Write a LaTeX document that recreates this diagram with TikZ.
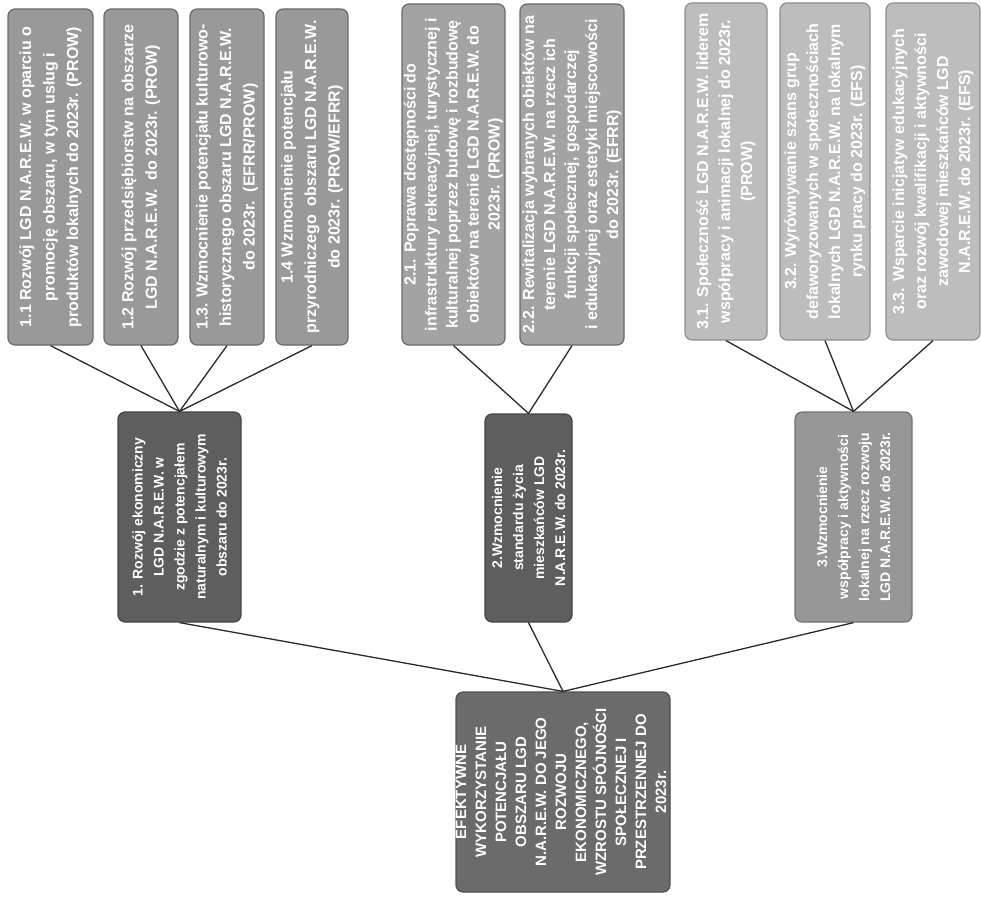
\documentclass[tikz,border=0pt]{standalone}
\usepackage{fontspec}
\setmainfont{Liberation Sans}
\definecolor{fA}{HTML}{999999}
\definecolor{fB}{HTML}{A3A3A3}
\definecolor{fC}{HTML}{BDBDBD}
\definecolor{fG}{HTML}{5E5E5E}
\definecolor{fH}{HTML}{979797}
\definecolor{fR}{HTML}{6B6B6B}
\definecolor{edge}{HTML}{6A6A6A}
\definecolor{lnk}{HTML}{2A2A2A}
\begin{document}
\begin{tikzpicture}[x=1pt,y=-1pt,
  bx/.style={rotate=90, rounded corners=7pt, line width=1.2pt, draw=edge, inner sep=0pt},
  subA/.style={bx, fill=fA},
  subB/.style={bx, fill=fB},
  subC/.style={bx, fill=fC, draw=fC!75!black},
  goalbox/.style={bx, fill=fG, draw=fG!75!black},
  goalboxL/.style={bx, fill=fH, draw=fH!75!black},
  rootbox/.style={bx, fill=fR, draw=fR!75!black},
  txtS/.style={rotate=90, text=white, align=center, inner sep=0pt, font=\bfseries\fontsize{16}{23.5}\selectfont},
  txtS2/.style={txtS, font=\bfseries\fontsize{16}{21}\selectfont},
  txtS3/.style={txtS, font=\bfseries\fontsize{16}{22}\selectfont},
  txtG/.style={rotate=90, text=white, align=center, inner sep=0pt, font=\bfseries\fontsize{14}{21}\selectfont},
  txtR/.style={rotate=90, text=white, align=center, inner sep=0pt, font=\bfseries\fontsize{15}{20}\selectfont},
  link/.style={draw=lnk, line width=1.3pt}]
\useasboundingbox (0,0) rectangle (981,899);

% subgoal boxes, group 1
\node[subA, minimum width=336, minimum height=85] (s11) at (50.5,177) {};
\node[txtS] (t11) at (s11.center) {1.1 Rozwój LGD N.A.R.E.W. w oparciu o\\promocję obszaru, w tym usług i\\produktów lokalnych do 2023r. (PROW)};
\node[subA, minimum width=336, minimum height=74] (s12) at (141,177) {};
\node[txtS] (t12) at (s12.center) {1.2 Rozwój przedsiębiorstw na obszarze\\LGD N.A.R.E.W.\ \ do 2023r. (PROW)};
\node[subA, minimum width=336, minimum height=74] (s13) at (227,177) {};
\node[txtS] (t13) at (s13.center) {1.3. Wzmocnienie potencjału kulturowo-\\historycznego obszaru LGD N.A.R.E.W.\\do 2023r.\ \ (EFRR/PROW)};
\node[subA, minimum width=336, minimum height=72] (s14) at (312,177) {};
\node[txtS] (t14) at (s14.center) {1.4 Wzmocnienie potencjału\\przyrodniczego\ \ obszaru LGD N.A.R.E.W.\\do 2023r. (PROW/EFRR)};

% group 2
\node[subB, minimum width=341, minimum height=103] (s21) at (453.5,174.5) {};
\node[txtS2] (t21) at (s21.center) {2.1. Poprawa dostępności do\\infrastruktury rekreacyjnej, turystycznej i\\kulturalnej poprzez budowę i rozbudowę\\obiektów na terenie LGD N.A.R.E.W. do\\2023r. (PROW)};
\node[subB, minimum width=341, minimum height=104] (s22) at (572,174.5) {};
\node[txtS2] (t22) at (s22.center) {2.2. Rewitalizacja wybranych obiektów na\\terenie LGD N.A.R.E.W. na rzecz ich\\funkcji społecznej, gospodarczej\\i edukacyjnej oraz estetyki miejscowości\\do 2023r. (EFRR)};

% group 3
\node[subC, minimum width=337, minimum height=82] (s31) at (726,171.5) {};
\node[txtS3] (t31) at (s31.center) {3.1. Społeczność LGD N.A.R.E.W. liderem\\współpracy i animacji lokalnej do 2023r.\\(PROW)};
\node[subC, minimum width=337, minimum height=90] (s32) at (825,171.5) {};
\node[txtS3] (t32) at (s32.center) {3.2. Wyrównywanie szans grup\\defaworyzowanych w społecznościach\\lokalnych LGD N.A.R.E.W. na lokalnym\\rynku pracy do 2023r. (EFS)};
\node[subC, minimum width=337, minimum height=94] (s33) at (933,171.5) {};
\node[txtS3] (t33) at (s33.center) {3.3. Wsparcie inicjatyw edukacyjnych\\oraz rozwój kwalifikacji i aktywności\\zawodowej mieszkańców LGD\\N.A.R.E.W. do 2023r. (EFS)};

% goals
\node[goalbox, minimum width=210, minimum height=123] (g1) at (179.5,517) {};
\node[txtG] (tg1) at (g1.center) {1. Rozwój ekonomiczny\\LGD N.A.R.E.W. w\\zgodzie z potencjałem\\naturalnym i kulturowym\\obszaru do 2023r.};
\node[goalbox, minimum width=208, minimum height=87] (g2) at (528.5,518) {};
\node[txtG] (tg2) at (g2.center) {2.Wzmocnienie\\standardu życia\\mieszkańców LGD\\N.A.R.E.W. do 2023r.};
\node[goalboxL, minimum width=210, minimum height=117] (g3) at (853.5,517) {};
\node[txtG] (tg3) at (g3.center) {3.Wzmocnienie\\współpracy i aktywności\\lokalnej na rzecz rozwoju\\LGD N.A.R.E.W. do 2023r.};

% root
\node[rootbox, minimum width=200, minimum height=214] (root) at (563,792) {};
\begin{scope}
\clip (root.north east) rectangle (root.south west);
\node[txtR] (troot) at (561,792) {EFEKTYWNE\\WYKORZYSTANIE\\POTENCJAŁU\\OBSZARU LGD\\N.A.R.E.W. DO JEGO\\ROZWOJU\\EKONOMICZNEGO,\\WZROSTU SPÓJNOŚCI\\SPOŁECZNEJ I\\PRZESTRZENNEJ DO\\2023r.};
\end{scope}

% connectors
\foreach \s in {s11,s12,s13,s14} \draw[link] (\s.west) -- (g1.east);
\foreach \s in {s21,s22} \draw[link] (\s.west) -- (g2.east);
\foreach \s in {s31,s32,s33} \draw[link] (\s.west) -- (g3.east);
\foreach \g in {g1,g2,g3} \draw[link] (\g.west) -- (root.east);
\end{tikzpicture}
\end{document}
